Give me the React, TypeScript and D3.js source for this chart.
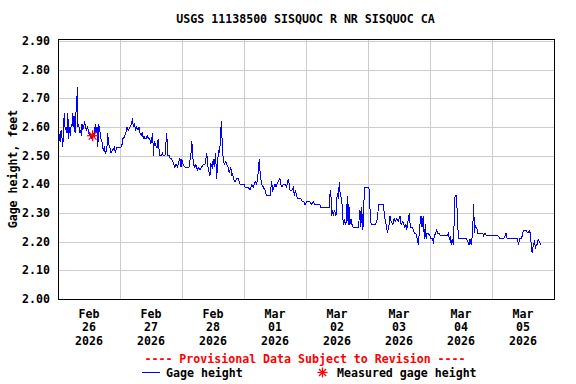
import React from "react";
import * as d3 from "d3";

const title = "USGS 11138500 SISQUOC R NR SISQUOC CA";
const yLabel = "Gage height, feet";
const provisional = "---- Provisional Data Subject to Revision ----";
const legendGage = "Gage height";
const legendMeasured = "Measured gage height";

const yTicks = [2.0, 2.1, 2.2, 2.3, 2.4, 2.5, 2.6, 2.7, 2.8, 2.9];
const dayLabels = [
  ["Feb", "26", "2026"], ["Feb", "27", "2026"], ["Feb", "28", "2026"], ["Mar", "01", "2026"],
  ["Mar", "02", "2026"], ["Mar", "03", "2026"], ["Mar", "04", "2026"], ["Mar", "05", "2026"],
];

// hours since 2026-02-26 00:00
const gageHours = [
  0.3, 0.8, 1.2, 1.5, 1.8, 2.1, 2.4, 2.8, 3.1, 3.5, 3.8, 4.1, 4.4, 4.8, 5.1, 5.4, 5.7, 5.9, 6.2, 6.6,
  7.0, 7.2, 7.5, 7.7, 8.0, 8.5, 8.8, 9.0, 9.3, 9.6, 9.9, 10.3, 10.6, 11.1, 11.5, 11.9, 12.1, 12.4, 12.8, 13.4,
  14.1, 14.4, 14.7, 15.1, 15.4, 15.8, 16.0, 16.4, 16.6, 17.0, 17.3, 17.5, 17.9, 18.3, 18.9, 19.2, 19.6, 20.1, 20.5, 21.2,
  21.8, 22.2, 22.7, 23.1, 24.4, 24.8, 25.0, 25.4, 25.8, 26.3, 26.7, 27.2, 27.9, 28.4, 28.9, 29.1, 29.5, 30.1, 30.5, 31.0,
  31.4, 31.7, 32.2, 32.6, 33.0, 33.3, 33.7, 34.1, 34.6, 35.0, 35.5, 35.9, 36.3, 36.7, 36.9, 37.3, 37.7, 38.1, 38.4, 38.8,
  39.2, 39.5, 40.0, 40.4, 40.8, 41.4, 42.1, 42.5, 43.1, 43.5, 43.9, 44.4, 44.8, 45.2, 45.7, 46.3, 46.8, 47.2, 47.6, 47.9,
  48.4, 49.2, 49.9, 50.7, 51.5, 51.8, 52.4, 53.0, 53.4, 53.9, 54.3, 55.0, 55.6, 56.2, 56.9, 57.6, 57.9, 58.5, 58.8, 59.2,
  59.7, 60.1, 60.5, 61.0, 61.4, 61.7, 62.1, 62.4, 62.8, 63.2, 63.6, 64.0, 64.4, 64.9, 65.3, 65.9, 66.3, 66.9, 67.2, 67.6,
  67.9, 68.5, 69.2, 69.8, 70.5, 71.1, 72.0, 72.4, 73.0, 73.7, 74.3, 75.0, 75.6, 76.3, 76.9, 77.5, 77.9, 78.3, 78.9, 79.5,
  80.1, 80.8, 82.1, 82.7, 83.1, 83.6, 84.0, 84.4, 84.7, 85.3, 85.9, 86.3, 86.7, 87.2, 87.9, 88.5, 89.1, 89.5, 89.8, 90.5,
  91.1, 91.5, 91.9, 92.4, 92.8, 93.3, 94.0, 94.6, 95.2, 95.6, 96.3, 96.9, 97.5, 98.2, 98.8, 99.5, 100.8, 101.4, 101.7, 105.0,
  105.2, 105.6, 105.9, 106.3, 106.6, 107.0, 107.3, 107.6, 107.9, 108.1, 108.5, 108.9, 109.2, 109.7, 110.1, 110.4, 110.8, 111.2, 111.6, 112.0,
  112.3, 112.6, 113.0, 113.4, 113.8, 114.3, 115.6, 116.2, 116.6, 116.9, 117.2, 117.6, 117.9, 118.2, 118.6, 119.0, 119.5, 120.1, 120.5, 120.8,
  121.2, 122.1, 122.7, 123.4, 123.8, 124.0, 124.6, 125.9, 126.3, 126.7, 127.1, 127.5, 127.9, 128.2, 128.5, 129.0, 129.6, 130.1, 130.5, 131.1,
  131.7, 132.4, 132.8, 133.4, 133.9, 134.3, 134.7, 135.0, 135.6, 136.0, 136.3, 136.6, 137.3, 137.9, 138.5, 139.1, 139.5, 139.9, 140.1, 140.5,
  140.9, 141.4, 141.8, 142.2, 142.5, 142.7, 143.3, 144.0, 144.4, 144.9, 145.3, 145.7, 146.2, 146.6, 147.0, 147.5, 148.1, 148.8, 149.4, 150.1,
  150.6, 151.1, 151.5, 151.9, 152.2, 152.6, 153.0, 153.4, 153.7, 154.1, 154.3, 154.6, 155.0, 155.6, 156.3, 156.9, 157.5, 158.2, 158.6, 159.1,
  159.5, 159.9, 160.4, 160.6, 160.9, 161.2, 161.4, 161.7, 162.1, 162.5, 163.1, 163.7, 164.3, 164.8, 165.3, 165.9, 166.6, 167.2, 167.9, 168.5,
  169.2, 169.8, 170.4, 171.1, 171.8, 172.4, 173.0, 173.4, 173.9, 174.6, 175.7, 176.9, 177.9, 178.2, 178.7, 179.2, 179.7, 180.1, 180.5, 181.2,
  181.9, 182.4, 182.8, 183.4, 183.6, 184.0, 184.4, 184.8, 185.2, 185.6, 185.9, 186.3, 186.8,
];

const gageFeet = [
  2.58, 2.55, 2.59, 2.57, 2.53, 2.57, 2.65, 2.59, 2.60, 2.58, 2.65, 2.56, 2.60, 2.57, 2.61, 2.60, 2.65, 2.60, 2.64, 2.58,
  2.66, 2.67, 2.74, 2.60, 2.61, 2.58, 2.59, 2.57, 2.61, 2.59, 2.60, 2.62, 2.60, 2.59, 2.60, 2.58, 2.57, 2.58, 2.56, 2.58,
  2.57, 2.61, 2.58, 2.60, 2.53, 2.61, 2.59, 2.58, 2.56, 2.55, 2.53, 2.52, 2.53, 2.51, 2.52, 2.58, 2.54, 2.53, 2.51, 2.52,
  2.53, 2.51, 2.53, 2.53, 2.53, 2.54, 2.56, 2.56, 2.57, 2.58, 2.60, 2.59, 2.60, 2.61, 2.63, 2.60, 2.61, 2.59, 2.60, 2.59,
  2.60, 2.58, 2.57, 2.58, 2.56, 2.57, 2.56, 2.56, 2.57, 2.56, 2.56, 2.54, 2.56, 2.58, 2.50, 2.55, 2.54, 2.53, 2.53, 2.56,
  2.51, 2.50, 2.50, 2.51, 2.50, 2.50, 2.58, 2.50, 2.50, 2.49, 2.49, 2.48, 2.47, 2.46, 2.47, 2.46, 2.48, 2.49, 2.46, 2.49,
  2.47, 2.46, 2.46, 2.46, 2.51, 2.55, 2.47, 2.46, 2.47, 2.45, 2.46, 2.45, 2.46, 2.47, 2.47, 2.51, 2.47, 2.44, 2.43, 2.47,
  2.46, 2.49, 2.46, 2.51, 2.42, 2.46, 2.52, 2.51, 2.54, 2.62, 2.54, 2.48, 2.47, 2.48, 2.47, 2.46, 2.44, 2.46, 2.43, 2.44,
  2.42, 2.41, 2.42, 2.42, 2.40, 2.40, 2.40, 2.39, 2.39, 2.39, 2.38, 2.40, 2.39, 2.41, 2.40, 2.44, 2.49, 2.43, 2.40, 2.39,
  2.38, 2.36, 2.36, 2.41, 2.38, 2.39, 2.40, 2.39, 2.40, 2.41, 2.42, 2.40, 2.39, 2.40, 2.40, 2.39, 2.42, 2.40, 2.38, 2.38,
  2.39, 2.36, 2.38, 2.36, 2.35, 2.35, 2.35, 2.34, 2.34, 2.33, 2.34, 2.34, 2.34, 2.33, 2.34, 2.33, 2.33, 2.33, 2.32, 2.32,
  2.36, 2.38, 2.29, 2.31, 2.29, 2.31, 2.30, 2.29, 2.34, 2.37, 2.35, 2.41, 2.37, 2.35, 2.32, 2.26, 2.28, 2.26, 2.27, 2.36,
  2.26, 2.33, 2.26, 2.28, 2.26, 2.25, 2.25, 2.25, 2.28, 2.31, 2.25, 2.32, 2.24, 2.26, 2.39, 2.39, 2.39, 2.39, 2.38, 2.31,
  2.26, 2.26, 2.26, 2.27, 2.29, 2.33, 2.33, 2.33, 2.30, 2.27, 2.26, 2.23, 2.25, 2.26, 2.29, 2.27, 2.26, 2.28, 2.27, 2.28,
  2.27, 2.29, 2.26, 2.27, 2.26, 2.25, 2.26, 2.24, 2.28, 2.30, 2.26, 2.25, 2.25, 2.23, 2.23, 2.21, 2.19, 2.24, 2.26, 2.29,
  2.25, 2.29, 2.21, 2.26, 2.21, 2.23, 2.23, 2.22, 2.21, 2.21, 2.20, 2.22, 2.23, 2.24, 2.23, 2.23, 2.22, 2.22, 2.22, 2.22,
  2.22, 2.23, 2.21, 2.22, 2.19, 2.21, 2.19, 2.28, 2.36, 2.36, 2.35, 2.29, 2.21, 2.21, 2.21, 2.21, 2.21, 2.21, 2.20, 2.19,
  2.21, 2.19, 2.22, 2.26, 2.33, 2.23, 2.26, 2.25, 2.25, 2.23, 2.23, 2.23, 2.23, 2.22, 2.23, 2.22, 2.22, 2.22, 2.22, 2.22,
  2.22, 2.22, 2.22, 2.21, 2.21, 2.21, 2.22, 2.23, 2.21, 2.21, 2.21, 2.21, 2.21, 2.19, 2.21, 2.21, 2.22, 2.24, 2.24, 2.24,
  2.23, 2.24, 2.23, 2.17, 2.16, 2.19, 2.20, 2.18, 2.19, 2.19, 2.21, 2.20, 2.19,
];

const measuredHours = [13.4];
const measuredFeet = [2.57];

const W = 576;
const H = 384;
const plotLeft = 58;
const plotRight = 554;
const plotTop = 39;
const plotBottom = 299;

const start = new Date(2026, 1, 26, 0, 0);
const end = new Date(2026, 2, 6, 0, 0);
const toDate = (h: number) => new Date(start.getTime() + h * 3600 * 1000);

const FONT = "'DejaVu Sans Mono', monospace";

function Asterisk({ cx, cy, r }: { cx: number; cy: number; r: number }) {
  const d = r * Math.SQRT1_2;
  return (
    <g stroke="#ff0000" strokeWidth={1.3}>
      <line x1={cx - r} y1={cy} x2={cx + r} y2={cy} />
      <line x1={cx} y1={cy - r} x2={cx} y2={cy + r} />
      <line x1={cx - d} y1={cy - d} x2={cx + d} y2={cy + d} />
      <line x1={cx - d} y1={cy + d} x2={cx + d} y2={cy - d} />
    </g>
  );
}

export default function App() {
  const x = d3.scaleTime().domain([start, end]).range([plotLeft, plotRight]);
  const y = d3.scaleLinear().domain([2.0, 2.9]).range([plotBottom, 41.2]);

  const data = gageHours.map((h, i) => ({ t: toDate(h), v: gageFeet[i] }));
  const line = d3
    .line<{ t: Date; v: number }>()
    .x((d) => x(d.t))
    .y((d) => y(d.v));

  const midnights = d3.timeDay.range(new Date(2026, 1, 27), end);
  const noons = d3.timeDay.range(start, end).map((d) => d3.timeHour.offset(d, 12));

  return (
    <svg width={W} height={H} style={{ position: "absolute", left: 0, top: 0, background: "#fff" }}>
      <rect x={0} y={0} width={W} height={H} fill="#fff" />
      {/* grid */}
      <g stroke="#cccccc" strokeWidth={1} shapeRendering="crispEdges">
        {yTicks.slice(1).map((t) => (
          <line key={t} x1={plotLeft} x2={plotRight} y1={Math.round(y(t)) + 0.5} y2={Math.round(y(t)) + 0.5} />
        ))}
        {midnights.map((d, i) => (
          <line key={i} x1={Math.round(x(d)) + 0.5} x2={Math.round(x(d)) + 0.5} y1={plotTop} y2={plotBottom} />
        ))}
      </g>
      {/* data */}
      <path
        d={line(data) || ""}
        fill="none"
        stroke="#0000ff"
        strokeWidth={1}
        strokeLinejoin="miter"
        shapeRendering="crispEdges"
      />
      {measuredHours.map((h, i) => (
        <Asterisk key={i} cx={x(toDate(h))} cy={y(measuredFeet[i])} r={5.5} />
      ))}
      {/* frame */}
      <rect
        x={plotLeft + 0.5}
        y={plotTop + 0.5}
        width={plotRight - plotLeft}
        height={plotBottom - plotTop}
        fill="none"
        stroke="#000"
        strokeWidth={1}
        shapeRendering="crispEdges"
      />
      {/* y ticks */}
      <g fontFamily={FONT} fontWeight="bold" fontSize={11.6} fill="#000" textAnchor="end">
        {yTicks.map((t) => (
          <text key={t} x={plotLeft - 8} y={y(t) + 4}>
            {d3.format(".2f")(t)}
          </text>
        ))}
      </g>
      {/* x labels */}
      <g fontFamily={FONT} fontWeight="bold" fontSize={11.6} fill="#000" textAnchor="middle">
        {noons.map((d, i) => (
          <g key={i}>
            {dayLabels[i].map((s, j) => (
              <text key={j} x={x(d)} y={318 + j * 13.3}>
                {s}
              </text>
            ))}
          </g>
        ))}
      </g>
      {/* title */}
      <text x={305.5} y={23} fontFamily={FONT} fontWeight="bold" fontSize={11.6} textAnchor="middle" fill="#000">
        {title}
      </text>
      {/* y label */}
      <text
        transform={`translate(17, ${(plotTop + plotBottom) / 2}) rotate(-90)`}
        fontFamily={FONT}
        fontWeight="bold"
        fontSize={11.6}
        textAnchor="middle"
        fill="#000"
      >
        {yLabel}
      </text>
      {/* provisional */}
      <text x={305} y={363} fontFamily={FONT} fontWeight="bold" fontSize={11.6} textAnchor="middle" fill="#ff0000">
        {provisional}
      </text>
      {/* legend */}
      <line x1={142} x2={160} y1={372.5} y2={372.5} stroke="#0000ff" strokeWidth={1} />
      <text x={166} y={377} fontFamily={FONT} fontWeight="bold" fontSize={11.6} fill="#000">
        {legendGage}
      </text>
      <Asterisk cx={322.5} cy={372.5} r={5} />
      <text x={337} y={377} fontFamily={FONT} fontWeight="bold" fontSize={11.6} fill="#000">
        {legendMeasured}
      </text>
    </svg>
  );
}
